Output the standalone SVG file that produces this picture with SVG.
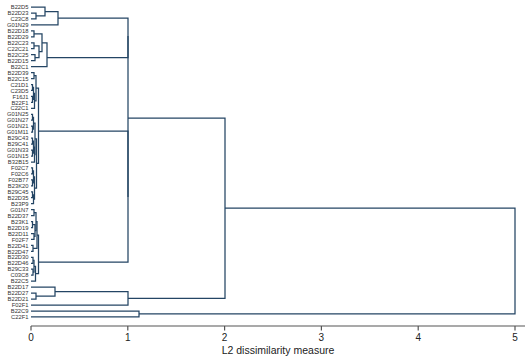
<svg xmlns="http://www.w3.org/2000/svg" width="527" height="359" viewBox="0 0 527 359">
<style>
.bg{fill:#ffffff}
.lbl{font-family:"Liberation Sans",Arial,sans-serif;font-size:5.8px;fill:#333;text-anchor:end}
.ln{fill:none;stroke:#244564;stroke-width:1.25;stroke-linejoin:miter}
.ax{fill:none;stroke:#555;stroke-width:1.2}
.tk{font-family:"Liberation Sans",Arial,sans-serif;font-size:10px;fill:#222;text-anchor:middle}
.ttl{font-family:"Liberation Sans",Arial,sans-serif;font-size:10.5px;fill:#222;text-anchor:middle}
</style>
<rect class="bg" x="0" y="0" width="527" height="359"/>
<g id="leaves">
<g id="n0"><text class="lbl" x="28.5" y="9.1">B22D5</text></g>
<g id="n1"><text class="lbl" x="28.5" y="15.1">B22D23</text></g>
<g id="n2"><text class="lbl" x="28.5" y="21.0">C23C8</text></g>
<g id="n3"><text class="lbl" x="28.5" y="27.0">G01N29</text></g>
<g id="n4"><text class="lbl" x="28.5" y="32.9">B22D18</text></g>
<g id="n5"><text class="lbl" x="28.5" y="38.9">B22D29</text></g>
<g id="n6"><text class="lbl" x="28.5" y="44.9">B22C23</text></g>
<g id="n7"><text class="lbl" x="28.5" y="50.8">C22C21</text></g>
<g id="n8"><text class="lbl" x="28.5" y="56.8">B22C25</text></g>
<g id="n9"><text class="lbl" x="28.5" y="62.7">B22D15</text></g>
<g id="n10"><text class="lbl" x="28.5" y="68.7">B22C1</text></g>
<g id="n11"><text class="lbl" x="28.5" y="74.7">B22D39</text></g>
<g id="n12"><text class="lbl" x="28.5" y="80.6">B22C15</text></g>
<g id="n13"><text class="lbl" x="28.5" y="86.6">C21D1</text></g>
<g id="n14"><text class="lbl" x="28.5" y="92.5">C23D5</text></g>
<g id="n15"><text class="lbl" x="28.5" y="98.5">F16J1</text></g>
<g id="n16"><text class="lbl" x="28.5" y="104.5">B22F1</text></g>
<g id="n17"><text class="lbl" x="28.5" y="110.4">C22C1</text></g>
<g id="n18"><text class="lbl" x="28.5" y="116.4">G01N25</text></g>
<g id="n19"><text class="lbl" x="28.5" y="122.3">G01N27</text></g>
<g id="n20"><text class="lbl" x="28.5" y="128.3">G01N21</text></g>
<g id="n21"><text class="lbl" x="28.5" y="134.3">G01M11</text></g>
<g id="n22"><text class="lbl" x="28.5" y="140.2">B29C43</text></g>
<g id="n23"><text class="lbl" x="28.5" y="146.2">B29C41</text></g>
<g id="n24"><text class="lbl" x="28.5" y="152.1">G01N33</text></g>
<g id="n25"><text class="lbl" x="28.5" y="158.1">G01N15</text></g>
<g id="n26"><text class="lbl" x="28.5" y="164.1">B32B15</text></g>
<g id="n27"><text class="lbl" x="28.5" y="170.0">F02C7</text></g>
<g id="n28"><text class="lbl" x="28.5" y="176.0">F02C6</text></g>
<g id="n29"><text class="lbl" x="28.5" y="181.9">F02B77</text></g>
<g id="n30"><text class="lbl" x="28.5" y="187.9">B23K20</text></g>
<g id="n31"><text class="lbl" x="28.5" y="193.9">B29C45</text></g>
<g id="n32"><text class="lbl" x="28.5" y="199.8">B22D35</text></g>
<g id="n33"><text class="lbl" x="28.5" y="205.8">B23P9</text></g>
<g id="n34"><text class="lbl" x="28.5" y="211.7">G01N7</text></g>
<g id="n35"><text class="lbl" x="28.5" y="217.7">B22D37</text></g>
<g id="n36"><text class="lbl" x="28.5" y="223.7">B23K1</text></g>
<g id="n37"><text class="lbl" x="28.5" y="229.6">B22D19</text></g>
<g id="n38"><text class="lbl" x="28.5" y="235.6">B22D11</text></g>
<g id="n39"><text class="lbl" x="28.5" y="241.5">F02F7</text></g>
<g id="n40"><text class="lbl" x="28.5" y="247.5">B22D41</text></g>
<g id="n41"><text class="lbl" x="28.5" y="253.5">B22D47</text></g>
<g id="n42"><text class="lbl" x="28.5" y="259.4">B22D30</text></g>
<g id="n43"><text class="lbl" x="28.5" y="265.4">B22D46</text></g>
<g id="n44"><text class="lbl" x="28.5" y="271.3">B29C33</text></g>
<g id="n45"><text class="lbl" x="28.5" y="277.3">C03C8</text></g>
<g id="n46"><text class="lbl" x="28.5" y="283.3">B22C5</text></g>
<g id="n47"><text class="lbl" x="28.5" y="289.2">B22D17</text></g>
<g id="n48"><text class="lbl" x="28.5" y="295.2">B22D27</text></g>
<g id="n49"><text class="lbl" x="28.5" y="301.1">B22D21</text></g>
<g id="n50"><text class="lbl" x="28.5" y="307.1">F02F1</text></g>
<g id="n51"><text class="lbl" x="28.5" y="313.1">B22C9</text></g>
<g id="n52"><text class="lbl" x="28.5" y="319.0">C22F1</text></g>
</g>
<g id="connectors">
<path class="ln" d="M31 13 H36 V18.9 H31"/>
<path class="ln" d="M31 7 H45 V15.95 H36"/>
<path class="ln" d="M45 11.5 H58 V24.9 H31"/>
<path class="ln" d="M31 30.8 H34 V36.8 H31"/>
<path class="ln" d="M31 42.8 H34 V48.7 H31"/>
<path class="ln" d="M31 54.7 H35 V60.6 H31"/>
<path class="ln" d="M34 45.75 H39 V57.65 H35"/>
<path class="ln" d="M34 33.8 H42 V51.7 H39"/>
<path class="ln" d="M42 42.75 H47 V66.6 H31"/>
<path class="ln" d="M31 72.6 H34 V78.5 H31"/>
<path class="ln" d="M31 84.5 H32.5 V90.4 H31"/>
<path class="ln" d="M31 96.4 H32.5 V102.4 H31"/>
<path class="ln" d="M32.5 87.45 H33.5 V99.4 H32.5"/>
<path class="ln" d="M33.5 93.4 H34.5 V108.3 H31"/>
<path class="ln" d="M34 75.55 H36 V100.85 H34.5"/>
<path class="ln" d="M31 114.3 H32.5 V120.2 H31"/>
<path class="ln" d="M31 126.2 H32.5 V132.2 H31"/>
<path class="ln" d="M32.5 117.25 H33.5 V129.2 H32.5"/>
<path class="ln" d="M31 138.1 H32.5 V144.1 H31"/>
<path class="ln" d="M31 150 H32.5 V156 H31"/>
<path class="ln" d="M32.5 141.1 H33.5 V153 H32.5"/>
<path class="ln" d="M33.5 147.05 H34.5 V162 H31"/>
<path class="ln" d="M33.5 123.2 H35 V154.5 H34.5"/>
<path class="ln" d="M31 167.9 H32.5 V173.9 H31"/>
<path class="ln" d="M31 179.8 H32.5 V185.8 H31"/>
<path class="ln" d="M32.5 170.9 H33.5 V182.8 H32.5"/>
<path class="ln" d="M31 191.8 H32.5 V197.7 H31"/>
<path class="ln" d="M32.5 194.75 H33.5 V203.7 H31"/>
<path class="ln" d="M33.5 176.85 H34.5 V199.2 H33.5"/>
<path class="ln" d="M35 138.85 H36.5 V188 H34.5"/>
<path class="ln" d="M36 88.2 H38.5 V163.4 H36.5"/>
<path class="ln" d="M31 209.6 H34 V215.6 H31"/>
<path class="ln" d="M31 221.6 H32.5 V227.5 H31"/>
<path class="ln" d="M31 233.5 H34 V239.4 H31"/>
<path class="ln" d="M32.5 224.55 H35 V236.45 H34"/>
<path class="ln" d="M34 212.6 H36 V230.5 H35"/>
<path class="ln" d="M31 245.4 H33 V251.4 H31"/>
<path class="ln" d="M36 221.55 H37 V248.4 H33"/>
<path class="ln" d="M31 257.3 H33 V263.3 H31"/>
<path class="ln" d="M31 269.2 H33 V275.2 H31"/>
<path class="ln" d="M33 260.3 H34 V272.2 H33"/>
<path class="ln" d="M34 266.25 H35.5 V281.2 H31"/>
<path class="ln" d="M37 235 H38.5 V273.7 H35.5"/>
<path class="ln" d="M58 18.2 H128 V57.5 H47"/>
<path class="ln" d="M38.5 131 H128 V262 H38.5"/>
<path class="ln" d="M128 36 V197"/>
<path class="ln" d="M31 293.1 H36 V299 H31"/>
<path class="ln" d="M31 287.1 H55 V296.05 H36"/>
<path class="ln" d="M55 291.6 H128 V305 H31"/>
<path class="ln" d="M128 118 H225 V298.3 H128"/>
<path class="ln" d="M31 311 H139 V316.9 H31"/>
<path class="ln" d="M225 208 H515 V313.95 H139"/>
</g>
<g id="axis">
<path class="ax" d="M31 326 H525 M31 326 V330.5 M127.8 326 V330.5 M224.6 326 V330.5 M321.4 326 V330.5 M418.2 326 V330.5 M515 326 V330.5"/>
<text class="tk" x="31" y="341">0</text>
<text class="tk" x="127.8" y="341">1</text>
<text class="tk" x="224.6" y="341">2</text>
<text class="tk" x="321.4" y="341">3</text>
<text class="tk" x="418.2" y="341">4</text>
<text class="tk" x="515" y="341">5</text>
<text class="ttl" x="278" y="354">L2 dissimilarity measure</text>
</g>
</svg>
